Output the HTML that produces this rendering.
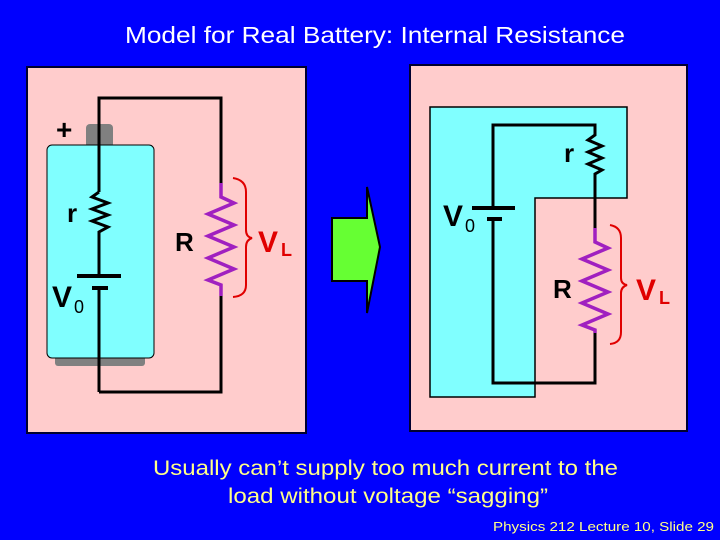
<!DOCTYPE html>
<html><head><style>
body{margin:0;width:720px;height:540px;background:#0000fe;overflow:hidden}
</style></head><body>
<svg width="720" height="540" xmlns="http://www.w3.org/2000/svg" style="position:absolute;left:0;top:0">
<text x="125" y="43" fill="#fff" font-family="Liberation Sans, sans-serif" font-size="23" textLength="500" lengthAdjust="spacingAndGlyphs">Model for Real Battery:  Internal Resistance</text>
<!-- left panel -->
<rect x="27" y="67" width="279" height="366" fill="#ffcccc" stroke="#000030" stroke-width="2"/>
<rect x="86" y="124" width="27" height="24" rx="4" fill="#808080"/>
<rect x="55" y="354" width="90" height="12" rx="3" fill="#808080"/>
<rect x="47" y="145" width="107" height="213" rx="5" fill="#80ffff" stroke="#000" stroke-width="1"/>
<text x="56" y="139" font-family="Liberation Sans, sans-serif" font-size="28" font-weight="bold">+</text>
<polyline fill="none" stroke="#000" stroke-width="3" points="99,192 99,98 221,98 221,183"/>
<polyline fill="none" stroke="#000" stroke-width="3" points="99,192 92,197 108,203 92,209 108,215 92,221 108,227 99,232 99,276"/>
<line x1="99" y1="287" x2="99" y2="392" stroke="#000" stroke-width="3"/>
<polyline fill="none" stroke="#000" stroke-width="3" points="99,392 221,392 221,296"/>
<line x1="77" y1="276" x2="121" y2="276" stroke="#000" stroke-width="4"/>
<line x1="92" y1="288" x2="108" y2="288" stroke="#000" stroke-width="4"/>
<text x="67" y="222" font-family="Liberation Sans, sans-serif" font-size="26" font-weight="bold">r</text>
<text x="52" y="307" font-family="Liberation Sans, sans-serif" font-size="30" font-weight="bold">V</text>
<text x="74" y="313" font-family="Liberation Sans, sans-serif" font-size="18">0</text>
<polyline fill="none" stroke="#a020c0" stroke-width="3.5" points="221,183 221,197 234,203 208,214 234,225 208,236 234,247 208,258 234,269 208,280 221,285 221,296"/>
<text x="175" y="251" font-family="Liberation Sans, sans-serif" font-size="26" font-weight="bold">R</text>
<path d="M233,178 Q246,180 246,192 L246,230 Q246,237 252,238 Q246,240 246,247 L246,285 Q246,296 233,297" fill="none" stroke="#e00000" stroke-width="2"/>
<text x="258" y="252" fill="#e00000" font-family="Liberation Sans, sans-serif" font-size="30" font-weight="bold">V</text>
<text x="281" y="256" fill="#e00000" font-family="Liberation Sans, sans-serif" font-size="18" font-weight="bold">L</text>
<!-- arrow -->
<polygon points="332,218 367,218 367,187 380,247 367,313 367,281 332,281" fill="#66ff33" stroke="#000" stroke-width="2"/>
<!-- right panel -->
<rect x="410" y="65" width="277" height="366" fill="#ffcccc" stroke="#000030" stroke-width="2"/>
<polygon points="430,107 627,107 627,198 535,198 535,397 430,397" fill="#80ffff" stroke="#000" stroke-width="1.5"/>
<polyline fill="none" stroke="#000" stroke-width="3" points="493,208 493,125 595,125 595,135 588,140 602,146 588,152 602,158 588,164 602,170 595,174 595,228"/>
<polyline fill="none" stroke="#000" stroke-width="3" points="493,219 493,383 595,383 595,333"/>
<line x1="472" y1="208" x2="515" y2="208" stroke="#000" stroke-width="4"/>
<line x1="487" y1="219" x2="502" y2="219" stroke="#000" stroke-width="4"/>
<polyline fill="none" stroke="#a020c0" stroke-width="3.5" points="595,228 595,242 608,248 582,259 608,270 582,281 608,292 582,303 608,314 582,325 595,330 595,333"/>
<text x="564" y="162" font-family="Liberation Sans, sans-serif" font-size="26" font-weight="bold">r</text>
<text x="443" y="226" font-family="Liberation Sans, sans-serif" font-size="30" font-weight="bold">V</text>
<text x="465" y="232" font-family="Liberation Sans, sans-serif" font-size="18">0</text>
<text x="553" y="298" font-family="Liberation Sans, sans-serif" font-size="26" font-weight="bold">R</text>
<path d="M610,225 Q621,227 621,238 L621,278 Q621,284 627,285 Q621,287 621,293 L621,332 Q621,343 610,344" fill="none" stroke="#e00000" stroke-width="2"/>
<text x="636" y="300" fill="#e00000" font-family="Liberation Sans, sans-serif" font-size="30" font-weight="bold">V</text>
<text x="659" y="304" fill="#e00000" font-family="Liberation Sans, sans-serif" font-size="18" font-weight="bold">L</text>
<text x="153" y="475" fill="#ffff88" font-family="Liberation Sans, sans-serif" font-size="21" textLength="465" lengthAdjust="spacingAndGlyphs">Usually can’t supply too much current to the</text>
<text x="228" y="503" fill="#ffff88" font-family="Liberation Sans, sans-serif" font-size="21" textLength="320" lengthAdjust="spacingAndGlyphs">load without voltage “sagging”</text>
<text x="493" y="531" fill="#ffff88" font-family="Liberation Sans, sans-serif" font-size="13" textLength="221" lengthAdjust="spacingAndGlyphs">Physics 212  Lecture 10, Slide  29</text>
</svg>
</body></html>
